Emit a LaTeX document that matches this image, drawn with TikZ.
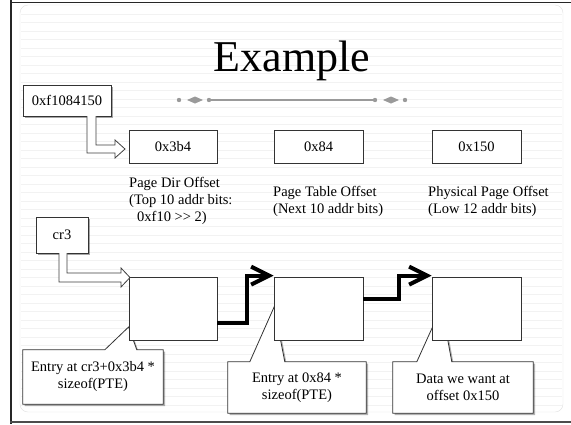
\documentclass[tikz,border=0pt]{standalone}
\usepackage{fontspec}
\setmainfont{Liberation Serif}
\usetikzlibrary{arrows.meta,calc,shadows}
\pgfdeclarelayer{bgl}
\pgfdeclarelayer{midl}
\pgfsetlayers{bgl,midl,main}
\definecolor{boxline}{HTML}{333333}
\definecolor{divgray}{HTML}{9A9A9A}
\begin{document}
\begin{tikzpicture}[x=1pt,y=-1pt,
  every node/.style={font=\fontsize{14.5}{17}\selectfont, text=black},
  bx/.style={draw=boxline, line width=0.8pt, fill=white, inner sep=0pt},
  shbx/.style={bx, drop shadow={shadow xshift=1.6pt, shadow yshift=-1.6pt, fill=black, opacity=0.35}},
  lbl/.style={anchor=north west, align=left, inner sep=0pt},
  ctext/.style={align=center, inner sep=0pt},
  hollow/.style={draw=black!75, line width=0.8pt, fill=white, line join=miter},
  thickline/.style={line width=4pt, line join=miter},
  chevron/.style={line width=4pt, line join=miter, line cap=butt},
  callout/.style={draw=boxline, line width=0.8pt, fill=white, line join=miter},
  cshadow/.style={fill=black, opacity=0.3}
]
\useasboundingbox (0,0) rectangle (571,424);

% background
\begin{pgfonlayer}{bgl}
  \fill[white] (0,0) rectangle (571,424);
  \draw[black!12, fill=white, rounded corners=8pt] (20,5) rectangle (563,412);
  \foreach \yy in {14,22.5,...,408} \draw[black!5, line width=0.5pt] (21,\yy) -- (562,\yy);
  \draw[black!85, line width=2pt] (10.5,0) -- (10.5,424);
  \draw[black!85, line width=1.5pt] (10,2.5) -- (571,2.5);
  \draw[black!70, line width=1.5pt] (10,422) -- (571,422);
\end{pgfonlayer}

% title and divider
\node[font=\fontsize{44}{52}\selectfont, anchor=base, inner sep=0pt] (title) at (292,71) {Example};
\draw[divgray, line width=1.3pt] (209,100) -- (375,100);
\foreach \xx in {179,209,375,405} \fill[divgray] (\xx,100) circle[radius=2.2pt];
\foreach \xx in {195,391} \fill[divgray] (\xx-8,100) -- (\xx,96.5) -- (\xx+8,100) -- (\xx,103.5) -- cycle;

% address and top row
\node[shbx, minimum width=88pt, minimum height=31pt] (addr) at (67,100.5) {0xf1084150};
\node[bx, minimum width=88pt, minimum height=33pt] (b1) at (173,146.5) {0x3b4};
\node[bx, minimum width=89pt, minimum height=33pt] (b2) at (318.5,146.5) {0x84};
\node[bx, minimum width=89pt, minimum height=33pt] (b3) at (476.5,146.5) {0x150};

\node[lbl] (l1) at (129,177) {Page Dir Offset\\(Top 10 addr bits:\\\hspace*{8pt}0xf10 >{}> 2)};
\node[lbl] (l2) at (273,186) {Page Table Offset\\(Next 10 addr bits)};
\node[lbl] (l3) at (428,186) {Physical Page Offset\\(Low 12 addr bits)};

% cr3 and bottom row
\node[shbx, minimum width=52pt, minimum height=36pt] (cr) at (62,235) {cr3};
\node[bx, minimum width=88pt, minimum height=63pt] (p1) at (173,308.5) {};
\node[bx, minimum width=89pt, minimum height=63pt] (p2) at (318.5,308.5) {};
\node[bx, minimum width=89pt, minimum height=63pt] (p3) at (476.5,308.5) {};

% hollow arrows
\filldraw[hollow] (87,116) -- (87,153) -- (115,153) -- (115,158) -- (125,149) -- (115,140) -- (115,145) -- (96,145) -- (96,116);
\filldraw[hollow] (59,253) -- (59,282) -- (121,282) -- (121,287) -- (130,277.5) -- (121,268) -- (121,273) -- (67,273) -- (67,253);

% thick arrows
\coordinate (t2) at ($(p2.north west)+(-4.5,-1)$);
\coordinate (t3) at ($(p3.north west)+(-4.5,-1)$);
\draw[thickline] ($(p1.east)+(0,14.5)$) -- ++(30,0) |- (t2);
\draw[chevron] ($(t2)+(-18,-9)$) -- (t2) -- ($(t2)+(-18,9)$);
\draw[thickline] ($(p2.east)+(0,-9.5)$) -- ++(36,0) |- (t3);
\draw[chevron] ($(t3)+(-18,-9)$) -- (t3) -- ($(t3)+(-18,9)$);

% callouts
\node[ctext, minimum width=140pt, minimum height=54pt] (c1) at (93,377) {Entry at cr3+0x3b4 *\\sizeof(PTE)};
\node[ctext, minimum width=138pt, minimum height=51pt] (c2) at (297,387.5) {Entry at 0x84 *\\sizeof(PTE)};
\node[ctext, minimum width=140pt, minimum height=51pt] (c3) at (463,387.5) {Data we want at\\offset 0x150};

\coordinate (ap1) at ($(p1.west)+(0,18.5)$);
\coordinate (ap2) at ($(p2.west)+(0.5,-1.5)$);
\coordinate (ap3) at ($(p3.west)+(10,-1.5)$);

\def\coA{(c1.north west) -- ($(c1.north west)+(82,0)$) -- (ap1) -- ($(c1.north west)+(114,0)$) -- (c1.north east) -- (c1.south east) -- (c1.south west) -- cycle}
\def\coB{(c2.north west) -- ($(c2.north west)+(22,0)$) -- (ap2) -- ($(c2.north west)+(57,0)$) -- (c2.north east) -- (c2.south east) -- (c2.south west) -- cycle}
\def\coC{(c3.north west) -- ($(c3.north west)+(24,0)$) -- (ap3) -- ($(c3.north west)+(59,0)$) -- (c3.north east) -- (c3.south east) -- (c3.south west) -- cycle}

\begin{pgfonlayer}{midl}
  \fill[cshadow, transform canvas={shift={(1.8,1.8)}}] \coA;
  \fill[cshadow, transform canvas={shift={(1.8,1.8)}}] \coB;
  \fill[cshadow, transform canvas={shift={(1.8,1.8)}}] \coC;
  \draw[callout] \coA;
  \draw[callout] \coB;
  \draw[callout] \coC;
\end{pgfonlayer}
\end{tikzpicture}
\end{document}
